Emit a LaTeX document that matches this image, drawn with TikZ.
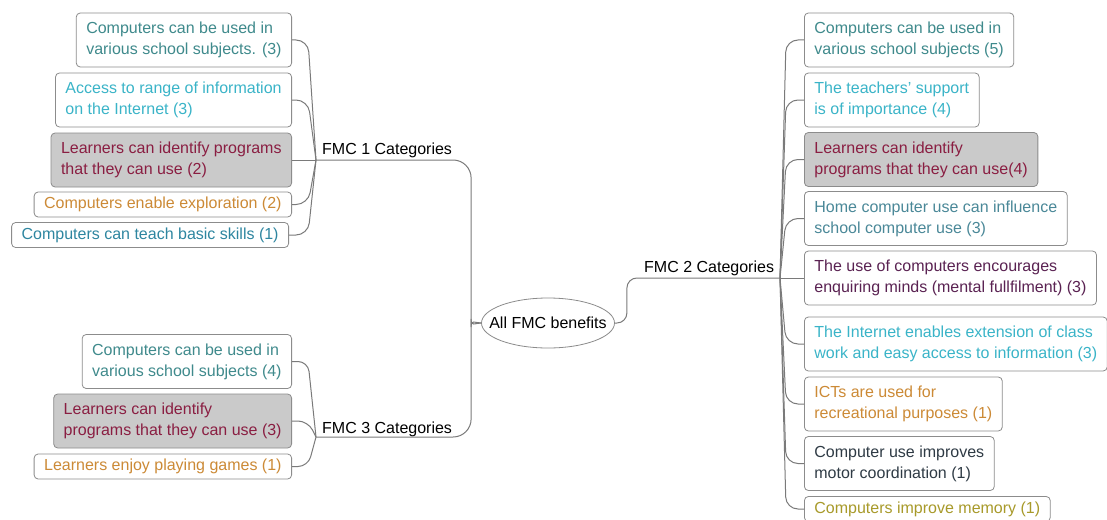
\documentclass[tikz,border=0pt]{standalone}
\usepackage{fontspec}
\setmainfont{Liberation Sans}
\usetikzlibrary{calc,shapes.geometric}
\definecolor{boxline}{HTML}{8C8C8C}
\definecolor{connc}{HTML}{7A7A7A}
\definecolor{greyfill}{HTML}{CACACA}
\definecolor{cteal}{HTML}{3F8A8C}
\definecolor{ccyan}{HTML}{3AB4C8}
\definecolor{cmaroon}{HTML}{8A1E42}
\definecolor{corange}{HTML}{CC8A36}
\definecolor{cblue}{HTML}{2E86A0}
\definecolor{cslate}{HTML}{4A8898}
\definecolor{cpurple}{HTML}{5A2252}
\definecolor{cdark}{HTML}{2F3B45}
\definecolor{colive}{HTML}{A89A2A}
\begin{document}
\begin{tikzpicture}[x=1pt,y=-1pt,
  every node/.style={font=\fontsize{16}{21}\selectfont},
  box/.style={draw=boxline, rounded corners=4pt, fill=white, align=left, inner xsep=10pt, inner ysep=2pt, line width=0.8pt},
  two/.style={minimum height=54pt},
  one/.style={minimum height=25pt},
  grey/.style={fill=greyfill},
  conn/.style={draw=connc, line width=1pt},
  lbl/.style={inner sep=0pt, anchor=base west}]
\useasboundingbox[fill=white] (0,0) rectangle (1107,519);

% hubs
\coordinate (h1) at (316,160);
\coordinate (h3) at (316,437);
\coordinate (h2) at (780,278);

% centre
\node[draw=boxline, ellipse, minimum width=133pt, minimum height=50pt, inner sep=0pt, line width=0.8pt] (e) at (548,323) {\makebox[0pt]{All FMC benefits}};

% category labels
\node[lbl] (f1) at (322,154) {FMC 1 Categories};
\node[lbl] (f3) at (322,433) {FMC 3 Categories};
\node[lbl] (f2) at (644,272) {FMC 2 Categories};

% FMC 1 boxes
\node[box,two,anchor=east,text=cteal] (L1a) at (292,40) {Computers can be used in\\various school subjects. (3)};
\node[box,two,anchor=east,text=ccyan] (L1b) at (292,100) {Access to range of information\\on the Internet (3)};
\node[box,two,grey,anchor=east,text=cmaroon] (L1c) at (292,160) {Learners can identify programs\\that they can use (2)};
\node[box,one,anchor=east,text=corange] (L1d) at (292,204.5) {Computers enable exploration (2)};
\node[box,one,anchor=east,text=cblue] (L1e) at (289,235) {Computers can teach basic skills (1)};

% FMC 3 boxes
\node[box,two,anchor=east,text=cteal] (L3a) at (292,361.5) {Computers can be used in\\various school subjects (4)};
\node[box,two,grey,anchor=east,text=cmaroon] (L3b) at (292,421) {Learners can identify\\programs that they can use (3)};
\node[box,one,anchor=east,text=corange] (L3c) at (292,466.5) {Learners enjoy playing games (1)};

% FMC 2 boxes
\node[box,two,anchor=west,text=cteal] (R1) at (804,40) {Computers can be used in\\various school subjects (5)};
\node[box,two,anchor=west,text=ccyan] (R2) at (804,100) {The teachers' support\\is of importance (4)};
\node[box,two,grey,anchor=west,text=cmaroon] (R3) at (804,159.5) {Learners can identify\\programs that they can use(4)};
\node[box,two,anchor=west,text=cslate] (R4) at (804,218.5) {Home computer use can influence\\school computer use (3)};
\node[box,two,anchor=west,text=cpurple] (R5) at (804,278) {The use of computers encourages\\enquiring minds (mental fullfilment) (3)};
\node[box,two,anchor=west,text=ccyan] (R6) at (804,344) {The Internet enables extension of class\\work and easy access to information (3)};
\node[box,two,anchor=west,text=corange] (R7) at (804,404) {ICTs are used for\\recreational purposes (1)};
\node[box,two,anchor=west,text=cdark] (R8) at (804,463.5) {Computer use improves\\motor coordination (1)};
\node[box,one,anchor=west,text=colive] (R9) at (804,509) {Computers improve memory (1)};

% main connectors
\draw[conn] (h1) [rounded corners=18pt] -| ($(e.west)+(-10,-14)$) [sharp corners] .. controls +(0,10) and +(-6,0) .. (e.west);
\draw[conn] (h3) [rounded corners=18pt] -| ($(e.west)+(-10,14)$) [sharp corners] .. controls +(0,-10) and +(-6,0) .. (e.west);
\draw[conn, rounded corners=10pt] (e.east) -- ++(12,0) |- (h2);

% FMC 1 / FMC 3 branches
\foreach \b in {L1a,L1b,L1d,L1e}
  \draw[conn, rounded corners=12pt] (\b.east) -- ($(h1 |- \b.east)+(-8,0)$) -- (h1);
\draw[conn] (L1c.east) -- (h1);
\foreach \b in {L3a,L3b,L3c}
  \draw[conn, rounded corners=10pt] (\b.east) -- ($(h3 |- \b.east)+(-8,0)$) -- (h3);

% FMC 2 branches
\foreach \b in {R1,R2,R3,R4,R6,R7,R8,R9}
  \draw[conn, rounded corners=12pt] (h2) -- ($(h2 |- \b.west)+(6,0)$) -- (\b.west);
\draw[conn] (h2) -- (R5.west);
\end{tikzpicture}
\end{document}
